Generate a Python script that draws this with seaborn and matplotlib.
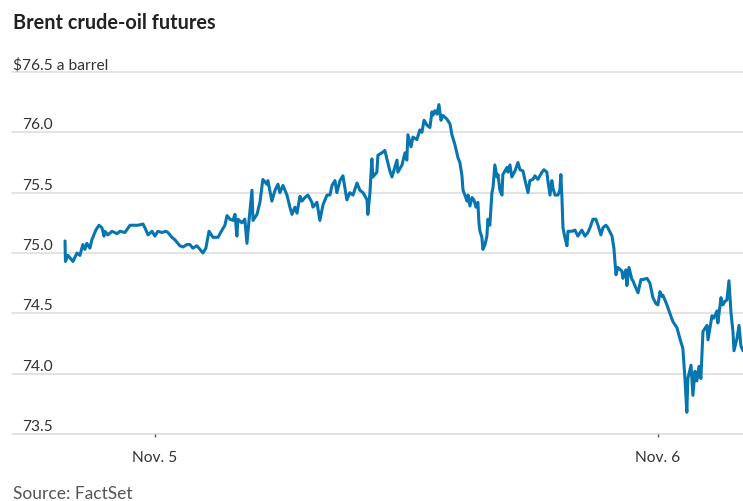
import matplotlib
matplotlib.use("Agg")
import matplotlib.pyplot as plt
import seaborn as sns
import pandas as pd

# hours relative to Nov. 5 00:00
hours = [
    -4.29, -4.27, -4.15, -3.96, -3.91, -3.72, -3.58, -3.44, -3.34, -3.25, -3.10, -3.01, -2.96, -2.82,
    -2.67, -2.53, -2.43, -2.39, -2.24, -2.05, -1.81, -1.67, -1.43, -1.19, -1.05, -0.81, -0.57, -0.48,
    -0.33, -0.14, 0.00, 0.14, 0.33, 0.53, 0.62, 0.81, 0.95, 1.19, 1.34, 1.53, 1.67, 1.81, 2.00,
    2.15, 2.29, 2.43,
    2.58, 2.77, 3.01, 3.20, 3.34, 3.44, 3.58, 3.72, 3.82, 3.91, 3.96, 4.15, 4.29, 4.39, 4.49, 4.63,
    4.68, 4.87, 5.01, 5.15, 5.34, 5.39, 5.58, 5.73, 5.87, 5.96, 6.11, 6.30, 6.44, 6.54, 6.68, 6.78,
    6.92, 7.01, 7.16, 7.30, 7.49, 7.54, 7.73, 7.87, 8.02, 8.21, 8.35, 8.45, 8.59,
    8.68, 8.83, 8.97, 9.16, 9.30, 9.45, 9.64, 9.78, 9.93, 10.12, 10.16, 10.26, 10.35, 10.40, 10.59,
    10.64, 10.83, 10.97, 11.07, 11.21, 11.31, 11.45, 11.55, 11.59, 11.79, 11.93, 12.02, 12.07, 12.22,
    12.31, 12.50, 12.64, 12.74, 12.84, 12.98, 13.12, 13.22, 13.26, 13.36, 13.46, 13.55, 13.65, 13.74,
    13.93, 14.08, 14.17, 14.31, 14.46, 14.55, 14.65, 14.70, 14.79, 14.89, 14.94, 15.03, 15.13, 15.22,
    15.32, 15.41,
    15.46, 15.51, 15.60, 15.65, 15.75, 15.84, 15.89, 15.98, 16.08, 16.13, 16.22, 16.32, 16.37, 16.46,
    16.56, 16.60, 16.80, 16.84, 16.94, 17.03, 17.18, 17.32, 17.42, 17.56, 17.65, 17.80, 17.89, 18.04,
    18.13, 18.27, 18.47, 18.56, 18.70, 18.75, 18.85, 18.94, 18.99, 19.09, 19.23, 19.32, 19.37, 19.42,
    19.47, 19.56, 19.66, 19.71, 19.90, 20.04, 20.18, 20.37, 20.52, 20.66, 20.76, 20.90, 21.04, 21.14,
    21.28, 21.38, 21.52, 21.61, 21.81, 21.90, 22.00, 22.09,
    22.28, 22.33, 22.47, 22.52, 22.62, 22.76, 22.81, 22.90, 23.05, 23.19, 23.29, 23.48, 23.62, 23.76,
    23.91, 24.00, 24.10, 24.19, 24.24, 24.43, 24.57, 24.72, 24.91, 25.05, 25.19, 25.29, 25.38, 25.43,
    25.58, 25.67, 25.77, 25.86, 25.96, 26.05, 26.15, 26.34, 26.39, 26.58, 26.67, 26.82, 26.86, 27.01,
    27.10, 27.20, 27.29, 27.39, 27.49, 27.58, 27.63, 27.77, 27.87, 27.96, 28.06,
]

price = [
    75.10, 74.93, 74.98, 74.94, 74.93, 75.00, 74.98, 75.07, 75.03, 75.08, 75.04, 75.11, 75.13, 75.19,
    75.23, 75.21, 75.14, 75.18, 75.15, 75.18, 75.16, 75.18, 75.17, 75.23, 75.23, 75.23, 75.24, 75.21,
    75.15, 75.18, 75.14, 75.18, 75.17, 75.18, 75.17, 75.13, 75.11, 75.06, 75.05, 75.07, 75.07, 75.04, 75.06,
    75.03, 75.00, 75.04,
    75.18, 75.13, 75.13, 75.19, 75.23, 75.31, 75.28, 75.27, 75.32, 75.14, 75.28, 75.25, 75.28, 75.08, 75.27, 75.52,
    75.27, 75.32, 75.42, 75.61, 75.57, 75.60, 75.43, 75.52, 75.57, 75.50, 75.56, 75.48, 75.38, 75.32, 75.38, 75.33,
    75.47, 75.43, 75.46, 75.48, 75.42, 75.38, 75.42, 75.27, 75.40, 75.48, 75.48, 75.56, 75.60,
    75.50, 75.60, 75.64, 75.44, 75.50, 75.48, 75.58, 75.52, 75.50, 75.44, 75.32, 75.50, 75.78, 75.63, 75.67,
    75.81, 75.83, 75.85, 75.78, 75.68, 75.63, 75.71, 75.77, 75.67, 75.73, 75.83, 75.77, 75.98, 75.88,
    75.96, 75.94, 76.02, 76.00, 76.10, 76.06, 76.04, 76.17, 76.14, 76.18, 76.15, 76.23, 76.10, 76.14,
    76.11, 76.07, 75.98, 75.90, 75.79, 75.75, 75.64, 75.52, 75.48, 75.43, 75.48, 75.39, 75.46, 75.44,
    75.38, 75.42,
    75.25, 75.18, 75.13, 75.03, 75.07, 75.14, 75.28, 75.23, 75.50, 75.54, 75.73, 75.63, 75.65, 75.52,
    75.48, 75.65, 75.71, 75.67, 75.73, 75.63, 75.68, 75.75, 75.69, 75.68, 75.61, 75.50, 75.60, 75.61,
    75.64, 75.61, 75.67, 75.69, 75.67, 75.60, 75.48, 75.60, 75.54, 75.48, 75.48, 75.52, 75.65, 75.46,
    75.21, 75.13, 75.06, 75.18, 75.18, 75.19, 75.14, 75.19, 75.14, 75.17, 75.21, 75.28, 75.28, 75.23,
    75.15, 75.21, 75.23, 75.21, 75.14, 75.04, 74.82, 74.88,
    74.85, 74.79, 74.86, 74.73, 74.88, 74.78, 74.77, 74.73, 74.67, 74.78, 74.78, 74.79, 74.75, 74.63,
    74.58, 74.57, 74.68, 74.64, 74.65, 74.57, 74.50, 74.43, 74.38, 74.29, 74.21, 73.96, 73.68, 73.96,
    74.07, 73.82, 74.02, 73.94, 74.06, 73.96, 74.35, 74.40, 74.28, 74.48, 74.46, 74.52, 74.42, 74.63,
    74.57, 74.60, 74.61, 74.77, 74.50, 74.35, 74.19, 74.29, 74.40, 74.23, 74.19,
]

y_ticks = [73.5, 74.0, 74.5, 75.0, 75.5, 76.0, 76.5]
y_labels = ["73.5", "74.0", "74.5", "75.0", "75.5", "76.0", "$76.5 a barrel"]
x_ticks = [0, 24]
x_labels = ["Nov. 5", "Nov. 6"]
x_range = (-6.82, 28.06)

title = "Brent crude-oil futures"
source = "Source: FactSet"

df = pd.DataFrame({"hours": hours, "price": price})

sns.set_theme(style="white")
FONT = ["Lato", "DejaVu Sans"]
plt.rcParams["font.family"] = FONT

W, H = 743, 502
fig = plt.figure(figsize=(W / 100, H / 100), dpi=100)
ax = fig.add_axes([12 / W, 67 / H, 731 / W, 362 / H])

LINE = "#0776b0"
GRID = "#dedede"
TEXT = "#333333"

for yv in y_ticks:
    ax.axhline(yv, color=GRID, lw=1.2, zorder=0, clip_on=False)

sns.lineplot(data=df, x="hours", y="price", ax=ax, color=LINE, lw=2.2,
             estimator=None, sort=False, zorder=3)
for l in ax.lines:
    l.set_clip_on(False)

ax.set_xlim(*x_range)
ax.set_ylim(y_ticks[0], y_ticks[-1])
for s in ax.spines.values():
    s.set_visible(False)
ax.set_xlabel("")
ax.set_ylabel("")
ax.set_yticks([])
ax.set_xticks(x_ticks)
ax.set_xticklabels(x_labels)
ax.tick_params(axis="x", length=2.5, width=1.0, color="#555555", pad=9,
               labelsize=11.2, labelcolor=TEXT, direction="out", bottom=True)

for yv, lab in zip(y_ticks, y_labels):
    dx = 1 * 0.72 if lab.startswith("$") else 10 * 0.72
    ax.annotate(lab, xy=(0, yv), xycoords=("axes fraction", "data"),
                xytext=(dx, 2.8), textcoords="offset points",
                ha="left", va="baseline", fontsize=11.2, color=TEXT,
                annotation_clip=False)

fig.text(13 / W, 1 - 29 / H, title, ha="left", va="baseline",
         fontsize=14.3, fontweight="bold", color="#222222")
fig.text(13 / W, 1 - 499 / H, source, ha="left", va="baseline",
         fontsize=12.5, color="#555555")

fig.savefig("out.png", dpi=100)
